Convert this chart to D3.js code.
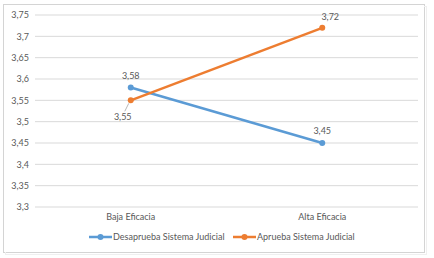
<!DOCTYPE html>
<html>
<head>
<meta charset="utf-8">
<script src="https://cdn.jsdelivr.net/npm/d3@7"></script>
<style>
  body { margin: 0; background: #fff; }
  text { font-family: Lato, "Open Sans", sans-serif; fill: #595959; }
</style>
</head>
<body>
<main></main>
<script>
// Datos
const categorias = ["Baja Eficacia", "Alta Eficacia"];
const desaprueba = [3.58, 3.45];
const aprueba = [3.55, 3.72];
const nombresSeries = ["Desaprueba Sistema Judicial", "Aprueba Sistema Judicial"];
const ticksY = [3.3, 3.35, 3.4, 3.45, 3.5, 3.55, 3.6, 3.65, 3.7, 3.75];

const [w, h] = [434, 258];
const margen = { top: 15, right: 16, bottom: 51, left: 35 };

const colores = ["#5B9BD5", "#ED7D31"];
const fmt = v => String(v).replace(".", ",");

const svg = d3.select("main").append("svg")
    .attr("width", w)
    .attr("height", h);

// Marco exterior
svg.append("rect")
    .attr("x", 3.5).attr("y", 4.5)
    .attr("width", 421).attr("height", 248)
    .attr("fill", "none")
    .attr("stroke", "#d4d4d4");
svg.append("rect")
    .attr("x", 5.5).attr("y", 6.5)
    .attr("width", 421).attr("height", 248)
    .attr("fill", "none")
    .attr("stroke", "#efefef");
svg.append("rect")
    .attr("x", 4).attr("y", 5)
    .attr("width", 420).attr("height", 247)
    .attr("fill", "#fff");

// Escalas
const xScale = d3.scaleBand()
    .domain(categorias)
    .range([margen.left, w - margen.right]);

const yScale = d3.scaleLinear()
    .domain([3.3, 3.75])
    .range([h - margen.bottom, margen.top]);

const xPos = c => xScale(c) + xScale.bandwidth() / 2;

// Rejilla
svg.append("g")
    .selectAll("line")
    .data(ticksY)
    .enter()
    .append("line")
    .attr("x1", margen.left)
    .attr("x2", w - margen.right)
    .attr("y1", d => yScale(d))
    .attr("y2", d => yScale(d))
    .attr("stroke", "#d9d9d9")
    .attr("stroke-width", 1);

// Eje Y
const ejeY = d3.axisLeft(yScale)
    .tickValues(ticksY)
    .tickFormat(fmt)
    .tickSize(0)
    .tickPadding(6);

svg.append("g")
    .attr("transform", "translate(" + (margen.left) + ",0)")
    .call(ejeY)
    .call(g => g.select(".domain").remove())
    .selectAll("text")
    .style("font-size", "9px")
    .style("font-family", "Lato, sans-serif")
    .attr("fill", "#595959");

// Eje X
const ejeX = d3.axisBottom(xScale).tickSize(0).tickPadding(7);

svg.append("g")
    .attr("transform", "translate(0," + (h - margen.bottom) + ")")
    .call(ejeX)
    .call(g => g.select(".domain").remove())
    .selectAll("text")
    .style("font-size", "9px")
    .style("font-family", "Lato, sans-serif")
    .attr("fill", "#595959");

// Series
const series = [desaprueba, aprueba];

const linea = d3.line()
    .x((d, i) => xPos(categorias[i]))
    .y(d => yScale(d));

series.forEach((s, k) => {
    svg.append("path")
        .datum(s)
        .attr("d", linea)
        .attr("fill", "none")
        .attr("stroke", colores[k])
        .attr("stroke-width", 2.5);

    svg.append("g")
        .selectAll("circle")
        .data(s)
        .enter()
        .append("circle")
        .attr("cx", (d, i) => xPos(categorias[i]))
        .attr("cy", d => yScale(d))
        .attr("r", 3)
        .attr("fill", colores[k]);
});

// Etiquetas de datos
const etiquetas = [
    { v: desaprueba[0], c: categorias[0], dx: 0, dy: -9 },
    { v: desaprueba[1], c: categorias[1], dx: 0, dy: -9 },
    { v: aprueba[0], c: categorias[0], dx: -8, dy: 20 },
    { v: aprueba[1], c: categorias[1], dx: 8, dy: -8 }
];

svg.append("g")
    .selectAll("text")
    .data(etiquetas)
    .enter()
    .append("text")
    .attr("x", d => xPos(d.c) + d.dx)
    .attr("y", d => yScale(d.v) + d.dy)
    .attr("text-anchor", "middle")
    .style("font-size", "9px")
    .text(d => fmt(d.v));

// Línea guía de 3,55
svg.append("line")
    .attr("x1", xPos(categorias[0]) - 2)
    .attr("y1", yScale(aprueba[0]) + 3)
    .attr("x2", xPos(categorias[0]) - 6)
    .attr("y2", yScale(aprueba[0]) + 11)
    .attr("stroke", "#a6a6a6")
    .attr("stroke-width", 0.8);

// Leyenda
const leyX = [89, 233];
const leyY = 237;

nombresSeries.forEach((n, k) => {
    const g = svg.append("g");
    g.append("line")
        .attr("x1", leyX[k]).attr("x2", leyX[k] + 23)
        .attr("y1", leyY).attr("y2", leyY)
        .attr("stroke", colores[k])
        .attr("stroke-width", 2.5);
    g.append("circle")
        .attr("cx", leyX[k] + 11.5).attr("cy", leyY)
        .attr("r", 3)
        .attr("fill", colores[k]);
    g.append("text")
        .attr("x", leyX[k] + 24)
        .attr("y", leyY + 3)
        .style("font-size", "9px")
        .text(n);
});
</script>
</body>
</html>
